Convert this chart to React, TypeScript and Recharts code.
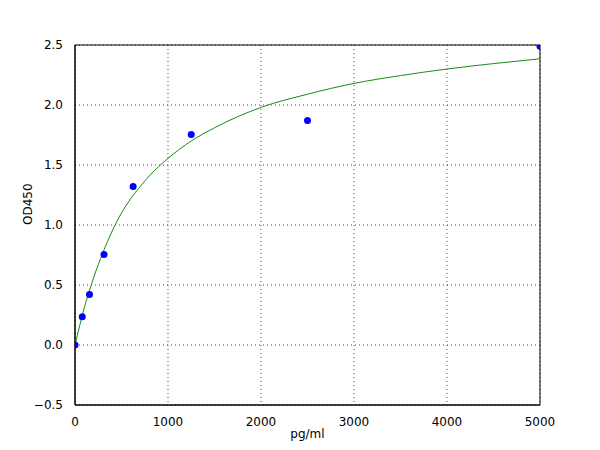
import { ComposedChart, Line, Scatter, XAxis, YAxis, CartesianGrid, ReferenceArea } from 'recharts'

// Standard points (concentration in pg/ml, OD450)
const standardConc = [0, 78, 156, 312, 625, 1250, 2500, 5000]
const standardOd = [0.0, 0.235, 0.42, 0.755, 1.32, 1.755, 1.87, 2.49]

// Fitted curve
const curveConc = [0, 50, 100, 150, 200, 300, 400, 500, 600, 700, 800, 1000, 1250, 1500, 2000, 2500, 3000, 3500, 4000, 4500, 5000]
const curveOd = [0.0, 0.16, 0.31, 0.44, 0.56, 0.77, 0.95, 1.1, 1.22, 1.32, 1.41, 1.555, 1.7, 1.81, 1.98, 2.09, 2.18, 2.245, 2.3, 2.345, 2.385]

const xTicks = [0, 1000, 2000, 3000, 4000, 5000]
const yTicks = [-0.5, 0, 0.5, 1.0, 1.5, 2.0, 2.5]

const font = 'DejaVu Sans, sans-serif'

export default function App() {
  const points = standardConc.map((x, i) => ({ x, y: standardOd[i] }))
  const curve = curveConc.map((x, i) => ({ x, y: curveOd[i] }))

  // matplotlib style minus sign on the y labels
  const fmtY = (v: number) => v.toFixed(1).replace('-', '\u2212')

  return (
    <div style={{ margin: -8, background: '#fff', width: 600, height: 450 }}>
      <ComposedChart width={600} height={450} margin={{ top: 45, right: 60, bottom: 0, left: 35 }}>
        <CartesianGrid stroke="#000" strokeDasharray="1 3" strokeWidth={0.7} horizontalValues={yTicks} verticalValues={xTicks} />
        <XAxis
          type="number"
          dataKey="x"
          domain={[0, 5000]}
          ticks={xTicks}
          height={45}
          tickLine={false}
          tickMargin={6}
          axisLine={{ stroke: '#000' }}
          tick={{ fill: '#000', fontSize: 12, fontFamily: font }}
          label={{ value: 'pg/ml', position: 'insideBottom', offset: 12, fill: '#000', fontSize: 12, fontFamily: font }}
          allowDataOverflow
        />
        <YAxis
          type="number"
          dataKey="y"
          domain={[-0.5, 2.5]}
          ticks={yTicks}
          width={40}
          tickLine={false}
          tickMargin={6}
          tickFormatter={fmtY}
          axisLine={{ stroke: '#000' }}
          tick={{ fill: '#000', fontSize: 12, fontFamily: font }}
          label={{ value: 'OD450', angle: -90, position: 'insideLeft', offset: -7, fill: '#000', fontSize: 12, fontFamily: font }}
          allowDataOverflow
        />
        <ReferenceArea x1={0} x2={5000} y1={-0.5} y2={2.5} fill="none" stroke="#000" strokeWidth={1} />
        <Line
          data={curve}
          dataKey="y"
          type="monotone"
          stroke="#1a8a1a"
          strokeWidth={1}
          dot={false}
          isAnimationActive={false}
        />
        <Scatter
          data={points}
          dataKey="y"
          fill="#0000ff"
          isAnimationActive={false}
          shape={(p: any) => <circle cx={p.cx} cy={p.cy} r={3.5} fill="#0000ff" />}
        />
      </ComposedChart>
    </div>
  )
}
